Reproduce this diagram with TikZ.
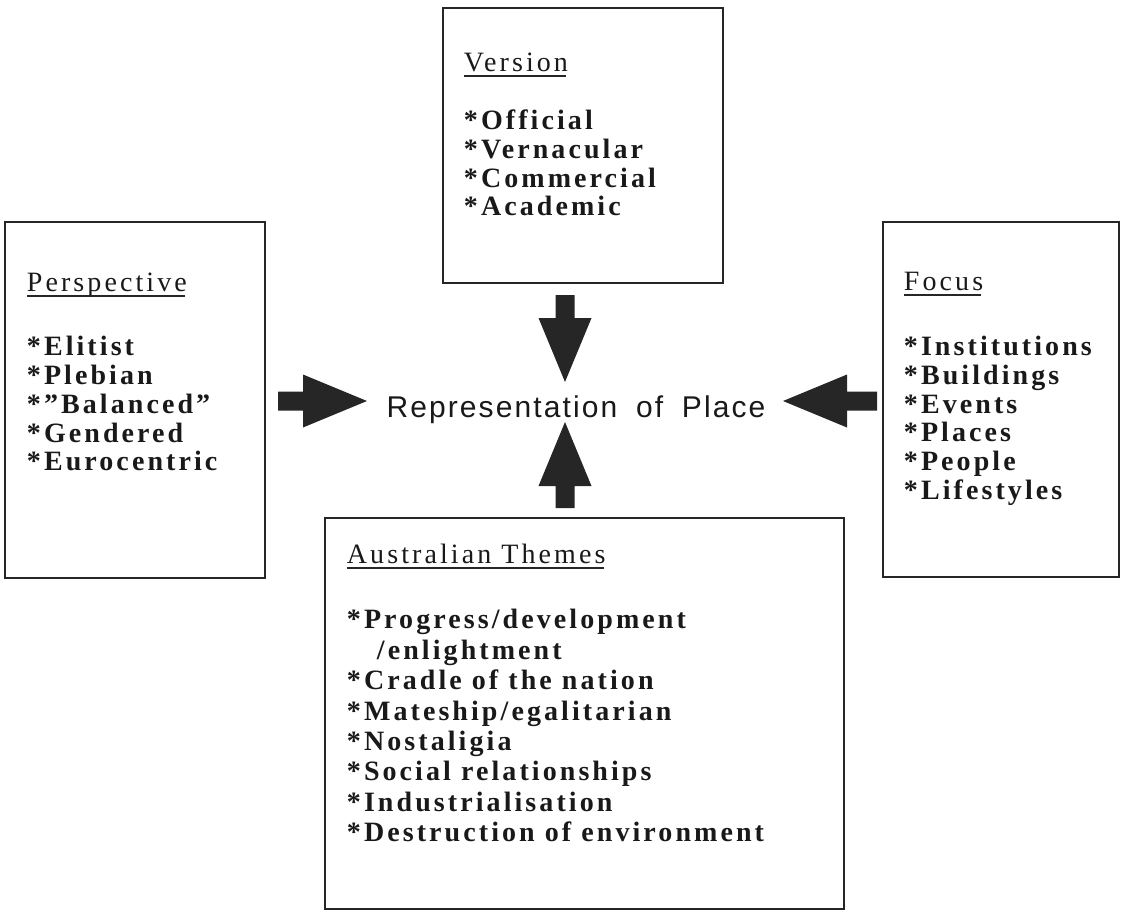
\documentclass[tikz,border=0pt]{standalone}
\usepackage{fontspec}
\setmainfont{Liberation Serif}
\newfontfamily\boxfont[LetterSpace=11]{Liberation Serif}
\newfontfamily\centrefont[LetterSpace=7,WordSpace=1.8]{Liberation Sans}
\usetikzlibrary{calc}

% block arrow: tail coordinate, direction, length
\newcommand{\blockarrow}[3]{%
  \begin{scope}[shift={(#1)}, rotate=#2]
    \fill[arrowfill] (0,-9.5) -- (#3-64,-9.5) -- (#3-64,-26.5) -- (#3,0) -- (#3-64,26.5) -- (#3-64,9.5) -- (0,9.5) -- cycle;
  \end{scope}}

\begin{document}
\begin{tikzpicture}[x=1pt,y=-1pt,
    box/.style={draw=black!85, line width=2.5pt, inner sep=0pt},
    heading/.style={font=\boxfont\fontsize{28}{28.7}\selectfont, text=black!90, inner sep=0pt, anchor=base west},
    itemlist/.style={font=\boxfont\bfseries\fontsize{28}{28.7}\selectfont, text=black!90, align=left, inner sep=0pt, anchor=base west},
    uline/.style={draw=black!85, line width=2pt},
    arrowfill/.style={fill=black!85}]
    \useasboundingbox (0,0) rectangle (1127,911);

    % Boxes
    \node[box, minimum width=280pt, minimum height=275pt] (version) at (583,145.5) {};
    \node[box, minimum width=260pt, minimum height=356pt] (persp) at (135,400) {};
    \node[box, minimum width=236pt, minimum height=355pt] (focus) at (1001,399.5) {};
    \node[box, minimum width=519pt, minimum height=391pt] (themes) at (584.5,713.5) {};

    % Headings
    \node[heading] (vhead) at ($(version.north west)+(22,65)$) {Version};
    \node[heading] (phead) at ($(persp.north west)+(23,71)$) {Perspective};
    \node[heading] (fhead) at ($(focus.north west)+(22,70)$) {Focus};
    \node[heading] (thead) at ($(themes.north west)+(23,47)$) {Australian Themes};
    \foreach \h in {vhead,phead,fhead,thead}
        \draw[uline] ($(\h.base west)+(0,4.5)$) -- ($(\h.base east)+(-2,4.5)$);

    % Lists (base = last line)
    \node[itemlist] (vlist) at ($(version.north west)+(22,209)$) {*Official\\*Vernacular\\*Commercial\\*Academic};
    \node[itemlist] (plist) at ($(persp.north west)+(23,250)$) {*Elitist\\*Plebian\\*”Balanced”\\*Gendered\\*Eurocentric};
    \node[itemlist] (flist) at ($(focus.north west)+(22,278.5)$) {*Institutions\\*Buildings\\*Events\\*Places\\*People\\*Lifestyles};
    \node[itemlist, font=\boxfont\bfseries\fontsize{28}{30.4}\selectfont] (tlist) at ($(themes.north west)+(23,325)$)
        {*Progress/development\\\hspace{30pt}/enlightment\\*Cradle of the nation\\*Mateship/egalitarian\\*Nostaligia\\*Social relationships\\*Industrialisation\\*Destruction of environment};

    % Centre
    \node[font=\centrefont\fontsize{30}{36}\selectfont, text=black!90, inner sep=0pt, anchor=base] (place) at (576,417) {Representation of Place};

    % Arrows
    \coordinate (ptail) at (278,401);
    \coordinate (ftail) at (877,401);
    \coordinate (vtail) at (565,295);
    \coordinate (ttail) at (565,508);
    \blockarrow{ptail}{0}{89}
    \blockarrow{ftail}{180}{94}
    \blockarrow{vtail}{270}{87}
    \blockarrow{ttail}{90}{86}
\end{tikzpicture}
\end{document}
